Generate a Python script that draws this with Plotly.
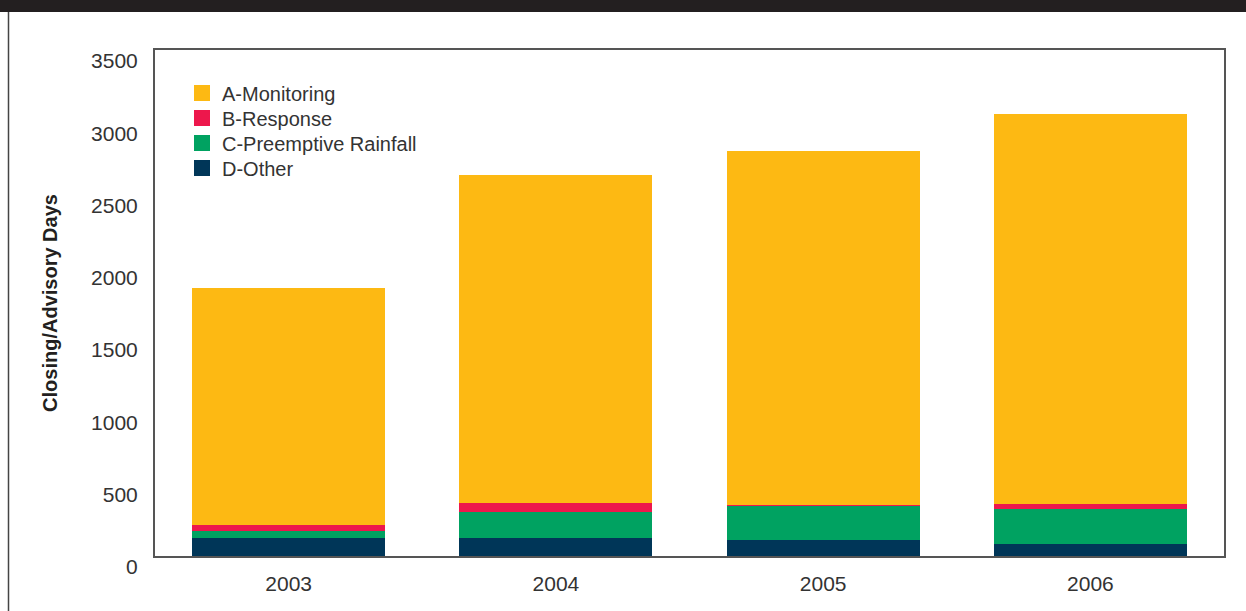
import plotly.graph_objects as go

years = ["2003", "2004", "2005", "2006"]
a_monitoring = [1639, 2268, 2446, 2697]
b_response = [44, 62, 7, 37]
c_preemptive = [46, 180, 237, 240]
d_other = [125, 125, 111, 83]

series = [
    ("D-Other", d_other, "#003658"),
    ("C-Preemptive Rainfall", c_preemptive, "#00A261"),
    ("B-Response", b_response, "#ED174C"),
    ("A-Monitoring", a_monitoring, "#FDB913"),
]

y_ticks = [0, 500, 1000, 1500, 2000, 2500, 3000, 3500]

W, H = 1246, 611
L, R, T, B = 155, 22, 50, 55
pw, ph = W - L - R, H - T - B


def px_x(px):
    return (px - L) / pw


def px_y(py):
    return (H - B - py) / ph


fig = go.Figure()
for name, vals, col in series:
    fig.add_trace(go.Bar(x=years, y=vals, name=name, showlegend=False,
                         marker=dict(color=col, line=dict(width=0))))

# legend entries (one legend per entry, to match the tight spacing of the original)
legend_names = ["legend", "legend2", "legend3", "legend4"]
legend_rows = [93, 118, 143, 168]
for i, (name, vals, col) in enumerate(reversed(series)):
    fig.add_trace(go.Scatter(x=[None], y=[None], mode="markers", name=name,
                             legend=legend_names[i],
                             marker=dict(symbol="square", size=18, color=col)))

legend_common = dict(xanchor="left", yanchor="middle", bgcolor="rgba(0,0,0,0)",
                     font=dict(size=20, color="#333333"), borderwidth=0)
layout_legends = {}
for i, ln in enumerate(legend_names):
    layout_legends[ln] = dict(x=px_x(182), y=px_y(legend_rows[i]), **legend_common)

fig.update_layout(
    width=W, height=H,
    margin=dict(l=L, r=R, t=T, b=B),
    paper_bgcolor="white", plot_bgcolor="white",
    barmode="stack", bargap=0.277,
    font=dict(family="Liberation Sans, Arial, sans-serif", size=21, color="#333333"),
    xaxis=dict(showgrid=False, ticks="", showline=True, linecolor="#555555", linewidth=2,
               mirror=True, ticklabelstandoff=8),
    yaxis=dict(range=[0, 3500], tickvals=y_ticks, showgrid=False, ticks="",
               showline=True, linecolor="#555555", linewidth=2, mirror=True,
               ticklabelstandoff=11, ticklabelshift=11,
               title=dict(text="<b>Closing/Advisory Days</b>", standoff=28,
                          font=dict(size=20, color="#231f20"))),
    shapes=[
        dict(type="rect", xref="paper", yref="paper", x0=px_x(-5), x1=px_x(W + 5),
             y0=px_y(12), y1=px_y(-5), fillcolor="#231f20", line=dict(width=0), layer="above"),
        dict(type="line", xref="paper", yref="paper", x0=px_x(8.5), x1=px_x(8.5),
             y0=px_y(12), y1=px_y(H + 5), line=dict(color="#444444", width=1.5)),
    ],
    **layout_legends,
)

fig.write_html("out.html")
